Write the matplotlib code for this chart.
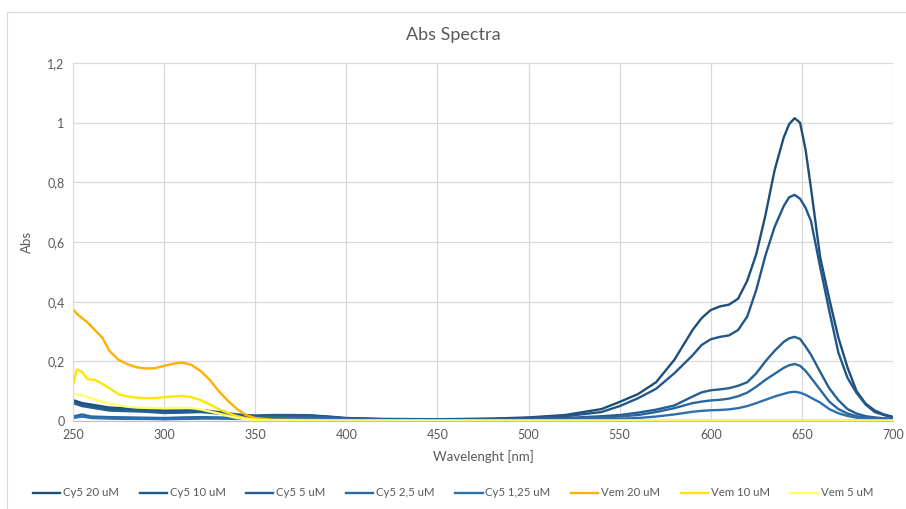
import matplotlib
matplotlib.use("Agg")
import matplotlib.pyplot as plt
from matplotlib.patches import Rectangle
from matplotlib.ticker import FuncFormatter

plt.rcParams['font.family'] = ['Lato', 'DejaVu Sans']

# ---- data ----
cy5_wl = [250, 255, 260, 270, 280, 290, 300, 310, 320, 330, 340, 350, 360, 370, 380, 390, 400, 420, 450,
          480, 500, 520, 540, 550, 560, 570, 580, 590, 595, 600, 605, 610, 615, 620, 625, 630, 635, 640,
          643, 646, 649, 652, 655, 660, 665, 670, 675, 680, 685, 690, 695, 700]

cy5_20 = [0.070, 0.060, 0.055, 0.045, 0.042, 0.040, 0.035, 0.035, 0.037, 0.030, 0.022, 0.018, 0.020, 0.020,
          0.019, 0.015, 0.010, 0.007, 0.006, 0.008, 0.012, 0.020, 0.040, 0.064, 0.090, 0.130, 0.205, 0.305,
          0.345, 0.372, 0.384, 0.390, 0.410, 0.470, 0.560, 0.690, 0.840, 0.950, 0.995, 1.015, 1.000, 0.910,
          0.780, 0.550, 0.410, 0.280, 0.180, 0.100, 0.058, 0.035, 0.022, 0.014]

cy5_10 = [0.065, 0.055, 0.050, 0.040, 0.038, 0.036, 0.030, 0.032, 0.034, 0.028, 0.020, 0.017, 0.019, 0.019,
          0.018, 0.014, 0.009, 0.006, 0.005, 0.007, 0.010, 0.016, 0.030, 0.050, 0.076, 0.108, 0.160, 0.220,
          0.255, 0.274, 0.282, 0.287, 0.305, 0.350, 0.440, 0.555, 0.650, 0.720, 0.750, 0.758, 0.745, 0.715,
          0.670, 0.517, 0.370, 0.230, 0.145, 0.094, 0.055, 0.030, 0.020, 0.012]

cy5_5 = [0.060, 0.050, 0.045, 0.035, 0.033, 0.031, 0.027, 0.028, 0.030, 0.025, 0.018, 0.015, 0.017, 0.017,
         0.016, 0.012, 0.008, 0.005, 0.004, 0.005, 0.007, 0.010, 0.016, 0.020, 0.028, 0.038, 0.052, 0.082,
         0.096, 0.103, 0.106, 0.110, 0.118, 0.130, 0.160, 0.200, 0.235, 0.265, 0.277, 0.282, 0.275, 0.250,
         0.222, 0.165, 0.110, 0.070, 0.040, 0.025, 0.016, 0.012, 0.009, 0.008]

cy5_2_5 = [0.015, 0.022, 0.015, 0.013, 0.012, 0.011, 0.010, 0.012, 0.013, 0.012, 0.010, 0.010, 0.012, 0.012,
           0.012, 0.010, 0.007, 0.004, 0.003, 0.004, 0.005, 0.008, 0.012, 0.015, 0.020, 0.030, 0.043, 0.060,
           0.065, 0.069, 0.071, 0.075, 0.083, 0.095, 0.115, 0.138, 0.158, 0.178, 0.187, 0.191, 0.185, 0.168,
           0.145, 0.105, 0.065, 0.040, 0.025, 0.016, 0.012, 0.009, 0.008, 0.007]

cy5_1_25 = [0.010, 0.015, 0.010, 0.008, 0.007, 0.007, 0.006, 0.007, 0.008, 0.008, 0.007, 0.007, 0.008, 0.008,
            0.008, 0.006, 0.005, 0.003, 0.002, 0.003, 0.003, 0.004, 0.006, 0.008, 0.010, 0.015, 0.022, 0.031,
            0.034, 0.036, 0.037, 0.039, 0.043, 0.050, 0.060, 0.071, 0.082, 0.091, 0.096, 0.098, 0.095, 0.088,
            0.078, 0.062, 0.040, 0.026, 0.017, 0.011, 0.008, 0.006, 0.005, 0.005]

vem_wl = [250, 252, 255, 258, 262, 266, 270, 275, 280, 285, 290, 295, 300, 305, 310, 315, 320, 325, 330,
          335, 340, 345, 350, 360, 400, 500, 600, 700]

vem_20 = [0.375, 0.360, 0.345, 0.330, 0.305, 0.280, 0.235, 0.205, 0.190, 0.180, 0.176, 0.177, 0.185, 0.192,
          0.196, 0.188, 0.168, 0.138, 0.100, 0.068, 0.040, 0.020, 0.010, 0.004, 0.002, 0.001, 0.001, 0.001]

vem_10 = [0.120, 0.172, 0.165, 0.140, 0.138, 0.125, 0.110, 0.090, 0.082, 0.078, 0.076, 0.077, 0.080, 0.082,
          0.084, 0.080, 0.070, 0.056, 0.040, 0.027, 0.016, 0.009, 0.005, 0.002, 0.001, 0.001, 0.001, 0.001]

vem_5 = [0.092, 0.088, 0.086, 0.080, 0.072, 0.065, 0.058, 0.052, 0.048, 0.045, 0.044, 0.043, 0.043, 0.044,
         0.045, 0.043, 0.039, 0.032, 0.025, 0.017, 0.010, 0.006, 0.003, 0.002, 0.001, 0.001, 0.001, 0.001]

series = [
    ("Cy5 20 uM", cy5_wl, cy5_20, "#1f4e79"),
    ("Cy5 10 uM", cy5_wl, cy5_10, "#21578a"),
    ("Cy5 5 uM", cy5_wl, cy5_5, "#255e91"),
    ("Cy5 2,5 uM", cy5_wl, cy5_2_5, "#2a679f"),
    ("Cy5 1,25 uM", cy5_wl, cy5_1_25, "#2e70ad"),
    ("Vem 20 uM", vem_wl, vem_20, "#ffb000"),
    ("Vem 10 uM", vem_wl, vem_10, "#ffe600"),
    ("Vem 5 uM", vem_wl, vem_5, "#ffff6e"),
]

x_ticks = [250, 300, 350, 400, 450, 500, 550, 600, 650, 700]
y_ticks = [0, 0.2, 0.4, 0.6, 0.8, 1.0, 1.2]

# ---- figure ----
fig = plt.figure(figsize=(9.06, 5.09), dpi=100)
fig.patches.append(Rectangle((7 / 906, 0), 1.0, 1 - 12 / 509, transform=fig.transFigure,
                             fill=False, edgecolor="#d9d9d9", linewidth=0.8))

ax = fig.add_axes([73 / 906, (509 - 421) / 509, (893 - 73) / 906, (421 - 63) / 509])

for name, xs, ys, col in series:
    ax.plot(xs, ys, color=col, linewidth=1.7, label=name)

ax.set_xlim(250, 700)
ax.set_ylim(0, 1.2)
ax.set_xticks(x_ticks)
ax.set_yticks(y_ticks)


def fmt(v, pos):
    s = ("%.1f" % v).rstrip("0").rstrip(".")
    return s.replace(".", ",")


ax.yaxis.set_major_formatter(FuncFormatter(fmt))
ax.grid(True, color="#d9d9d9", linewidth=0.9)
ax.set_axisbelow(True)
for s in ["top", "right"]:
    ax.spines[s].set_visible(False)
ax.spines["left"].set_color("#d9d9d9")
ax.spines["bottom"].set_color("#bfbfbf")
ax.tick_params(length=0, labelsize=9, colors="#595959", pad=6)

ax.set_xlabel("Wavelenght [nm]", fontsize=9.5, color="#595959", labelpad=6)
ax.set_ylabel("Abs", fontsize=9.5, color="#595959", labelpad=10)

fig.text(0.5, 1 - 35 / 509, "Abs Spectra", ha="center", va="center", fontsize=13, color="#595959")

fig.legend(loc="center", bbox_to_anchor=(0.5, 1 - 493 / 509), ncol=8, frameon=False,
           fontsize=8.2, handlelength=2.4, columnspacing=1.8, handletextpad=0.25,
           labelcolor="#595959")

fig.savefig("out.png", dpi=100)
